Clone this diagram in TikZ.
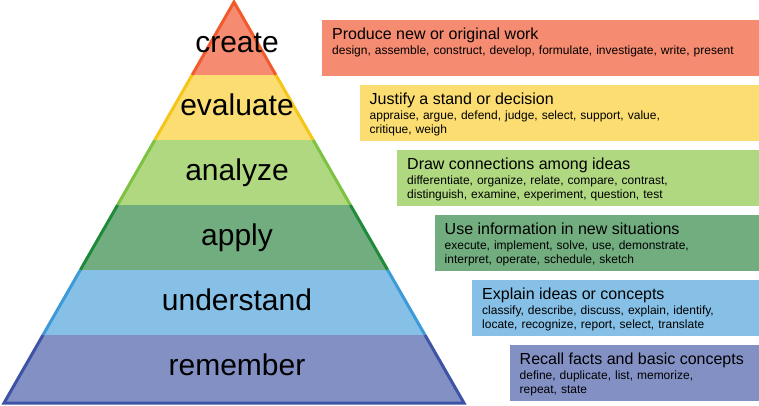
\documentclass[tikz,border=0pt]{standalone}
\usepackage{fontspec}
\setmainfont{Liberation Sans}
\usepackage{tikz}
\usepackage{xcolor}
\usetikzlibrary{positioning}

\definecolor{createfill}{RGB}{245,139,113}
\definecolor{createline}{RGB}{241,90,43}
\definecolor{evaluatefill}{RGB}{252,221,114}
\definecolor{evaluateline}{RGB}{245,197,24}
\definecolor{analyzefill}{RGB}{176,216,129}
\definecolor{analyzeline}{RGB}{125,194,66}
\definecolor{applyfill}{RGB}{114,173,128}
\definecolor{applyline}{RGB}{30,138,58}
\definecolor{understandfill}{RGB}{134,192,230}
\definecolor{understandline}{RGB}{61,154,217}
\definecolor{rememberfill}{RGB}{130,144,196}
\definecolor{rememberline}{RGB}{62,82,166}

\tikzset{
  levelname/.style={anchor=base,inner sep=0pt,font=\fontsize{30}{36}\selectfont},
  levelbox/.style={rectangle,anchor=north west,inner sep=0pt,minimum height=56pt},
  boxtitle/.style={anchor=base west,inner sep=0pt,font=\fontsize{16}{19}\selectfont},
  boxwords/.style={anchor=base west,inner sep=0pt,align=left,text width=425pt,font=\fontsize{12}{14}\selectfont},
  side/.style={line width=3pt,line join=miter}
}

\begin{document}
\begin{tikzpicture}[x=1pt,y=-1pt]
    \useasboundingbox (0,0) rectangle (759,405);
    % pyramid
    \fill[createfill] (234,2) -- (275.9,75) -- (192.1,75) -- cycle;
    \fill[evaluatefill] (192.1,75) -- (275.9,75) -- (313.2,140) -- (154.8,140) -- cycle;
    \fill[analyzefill] (154.8,140) -- (313.2,140) -- (350.4,205) -- (117.6,205) -- cycle;
    \fill[applyfill] (117.6,205) -- (350.4,205) -- (387.7,270) -- (80.3,270) -- cycle;
    \fill[understandfill] (80.3,270) -- (387.7,270) -- (425.0,335) -- (43.0,335) -- cycle;
    \fill[rememberfill] (43.0,335) -- (425.0,335) -- (464.0,403) -- (4.0,403) -- cycle;
    \draw[side,createline] (192.1,75) -- (234,2) -- (275.9,75);
    \draw[side,evaluateline] (192.1,75) -- (154.8,140) (275.9,75) -- (313.2,140);
    \draw[side,analyzeline] (154.8,140) -- (117.6,205) (313.2,140) -- (350.4,205);
    \draw[side,applyline] (117.6,205) -- (80.3,270) (350.4,205) -- (387.7,270);
    \draw[side,understandline] (80.3,270) -- (43.0,335) (387.7,270) -- (425.0,335);
    \draw[side,rememberline] (43.0,335) -- (4.0,403) -- (464.0,403) -- (425.0,335);
    \node[levelname] (create) at (237,52) {create};
    \node[levelname] (evaluate) at (237,115) {evaluate};
    \node[levelname] (analyze) at (237,180) {analyze};
    \node[levelname] (apply) at (237,245) {apply};
    \node[levelname] (understand) at (237,310) {understand};
    \node[levelname] (remember) at (237,375) {remember};
    % boxes
    \node[levelbox,fill=createfill,minimum width=437pt] (create_b) at (322,20) {};
    \node[boxtitle] (create_t) at (332,39.5) {Produce new or original work};
    \node[boxwords] (create_w) at (332,54) {design, assemble, construct, develop, formulate, investigate, write, present};
    \node[levelbox,fill=evaluatefill,minimum width=399.5pt] (evaluate_b) at (359.5,85) {};
    \node[boxtitle] (evaluate_t) at (369.5,104.5) {Justify a stand or decision};
    \node[boxwords] (evaluate_w) at (369.5,119) {appraise, argue, defend, judge, select, support, value,\\critique, weigh};
    \node[levelbox,fill=analyzefill,minimum width=362pt] (analyze_b) at (397,150) {};
    \node[boxtitle] (analyze_t) at (407,169.5) {Draw connections among ideas};
    \node[boxwords] (analyze_w) at (407,184) {differentiate, organize, relate, compare, contrast,\\distinguish, examine, experiment, question, test};
    \node[levelbox,fill=applyfill,minimum width=324.5pt] (apply_b) at (434.5,215) {};
    \node[boxtitle] (apply_t) at (444.5,234.5) {Use information in new situations};
    \node[boxwords] (apply_w) at (444.5,249) {execute, implement, solve, use, demonstrate,\\interpret, operate, schedule, sketch};
    \node[levelbox,fill=understandfill,minimum width=287pt] (understand_b) at (472,280) {};
    \node[boxtitle] (understand_t) at (482,299.5) {Explain ideas or concepts};
    \node[boxwords] (understand_w) at (482,314) {classify, describe, discuss, explain, identify,\\locate, recognize, report, select, translate};
    \node[levelbox,fill=rememberfill,minimum width=249.5pt] (remember_b) at (509.5,345) {};
    \node[boxtitle] (remember_t) at (519.5,364.5) {Recall facts and basic concepts};
    \node[boxwords] (remember_w) at (519.5,379) {define, duplicate, list, memorize,\\repeat, state};
  \end{tikzpicture}
\end{document}
